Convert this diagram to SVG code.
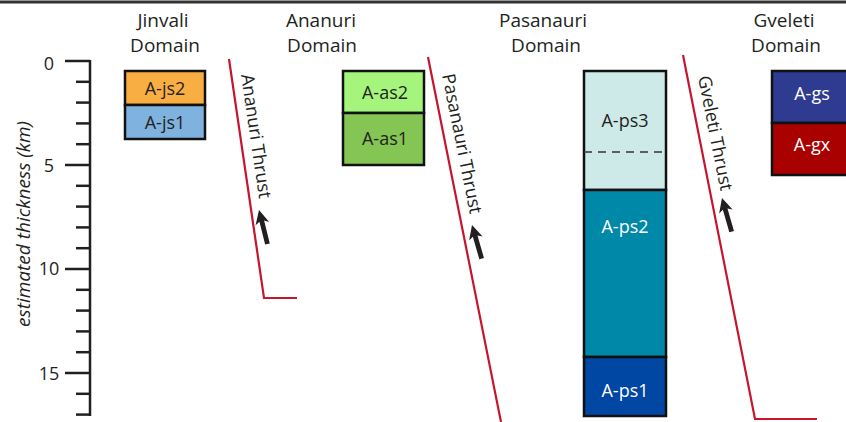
<svg xmlns="http://www.w3.org/2000/svg" width="846" height="422" viewBox="0 0 846 422">
<style>
text{font-family:"Open Sans","Noto Sans","Liberation Sans",sans-serif;font-size:18px;fill:#231f20}
.c{text-anchor:middle}
.d{font-size:19px}
.w{fill:#ffffff}
.box{stroke:#111;stroke-width:2.5}
.tick{stroke:#231f20;stroke-width:2.5}
.thrust{fill:none;stroke:#c5162e;stroke-width:2.2}
.arrow{fill:#231f20}
</style>
<defs>
<path id="arr" d="M0,0 L7,14 L2.4,11.5 L2.4,35 L-2.4,35 L-2.4,11.5 L-7,14 Z"/>
</defs>
<rect width="846" height="422" fill="#fff"/>
<line x1="0" y1="2" x2="846" y2="2" stroke="#333" stroke-width="3"/>

<g id="axis">
<line class="tick" x1="90" y1="60" x2="90" y2="416"/>
<g class="tick">
<line x1="65" y1="61" x2="90" y2="61"/>
<line x1="76" y1="81.8" x2="90" y2="81.8"/>
<line x1="76" y1="102.6" x2="90" y2="102.6"/>
<line x1="76" y1="123.4" x2="90" y2="123.4"/>
<line x1="76" y1="144.2" x2="90" y2="144.2"/>
<line x1="65" y1="165" x2="90" y2="165"/>
<line x1="76" y1="185.8" x2="90" y2="185.8"/>
<line x1="76" y1="206.6" x2="90" y2="206.6"/>
<line x1="76" y1="227.4" x2="90" y2="227.4"/>
<line x1="76" y1="248.2" x2="90" y2="248.2"/>
<line x1="65" y1="269" x2="90" y2="269"/>
<line x1="76" y1="289.8" x2="90" y2="289.8"/>
<line x1="76" y1="310.6" x2="90" y2="310.6"/>
<line x1="76" y1="331.4" x2="90" y2="331.4"/>
<line x1="76" y1="352.2" x2="90" y2="352.2"/>
<line x1="65" y1="373" x2="90" y2="373"/>
<line x1="76" y1="393.8" x2="90" y2="393.8"/>
<line x1="76" y1="414.6" x2="90" y2="414.6"/>
</g>
<text class="c" x="49" y="70">0</text>
<text class="c" x="49" y="172">5</text>
<text class="c" x="49" y="275">10</text>
<text class="c" x="49" y="380">15</text>
<text class="c d" transform="translate(30,224) rotate(-90)" font-style="italic">estimated thickness (km)</text>
</g>

<g id="jinvali">
<text class="c d" x="163" y="27">Jinvali</text>
<text class="c d" x="165" y="52">Domain</text>
<rect class="box" x="125" y="71" width="80" height="34" fill="#f9ae42"/>
<rect class="box" x="125" y="105" width="80" height="34" fill="#7fb2df"/>
<text class="c" x="165" y="95">A-js2</text>
<text class="c" x="165" y="129">A-js1</text>
</g>

<g id="ananuri">
<text class="c d" x="321" y="27">Ananuri</text>
<text class="c d" x="322" y="52">Domain</text>
<rect class="box" x="343" y="71" width="81" height="42" fill="#a5f57c"/>
<rect class="box" x="343" y="113" width="81" height="52" fill="#84c553"/>
<text class="c" x="385" y="99">A-as2</text>
<text class="c" x="385" y="145">A-as1</text>
</g>

<g id="pasanauri">
<text class="c d" x="543" y="27">Pasanauri</text>
<text class="c d" x="546" y="52">Domain</text>
<rect class="box" x="584" y="71" width="82" height="119" fill="#cdeae9"/>
<line x1="584" y1="152" x2="666" y2="152" stroke="#333" stroke-width="1.5" stroke-dasharray="8,6"/>
<rect class="box" x="584" y="190" width="82" height="167" fill="#0088a8"/>
<rect class="box" x="584" y="357" width="82" height="59" fill="#0047a3"/>
<text class="c" x="625" y="127" fill="#3a3a3a">A-ps3</text>
<text class="c w" x="625" y="233">A-ps2</text>
<text class="c w" x="625" y="397">A-ps1</text>
</g>

<g id="gveleti">
<text class="c d" x="784" y="27">Gveleti</text>
<text class="c d" x="786" y="52">Domain</text>
<rect class="box" x="772" y="71" width="80" height="52" fill="#2e3b91"/>
<rect class="box" x="772" y="123" width="80" height="52" fill="#a90000"/>
<text class="c w" x="812" y="100">A-gs</text>
<text class="c w" x="812" y="151">A-gx</text>
</g>

<g id="connectors">
<polyline class="thrust" points="229,59 264,298 297,298"/>
<line class="thrust" x1="428" y1="57" x2="501" y2="422"/>
<polyline class="thrust" points="683,55 755,419 817,419"/>
<text transform="translate(241,75) rotate(81.67)" font-size="18.5">Ananuri Thrust</text>
<text transform="translate(442,75) rotate(78.63)" font-size="18.5">Pasanauri Thrust</text>
<text transform="translate(698,77) rotate(78.81)" font-size="18.5">Gveleti Thrust</text>
<use href="#arr" class="arrow" transform="translate(259,210) rotate(-14)"/>
<use href="#arr" class="arrow" transform="translate(472,225) rotate(-16)"/>
<use href="#arr" class="arrow" transform="translate(722,198) rotate(-16)"/>
</g>
</svg>
